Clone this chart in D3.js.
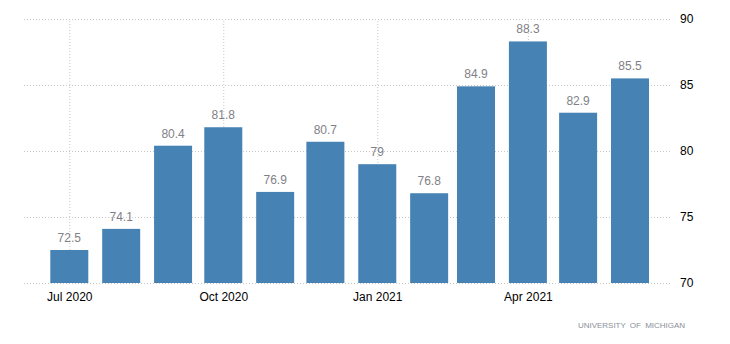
<!DOCTYPE html>
<html>
<head>
<meta charset="utf-8">
<script src="https://cdn.jsdelivr.net/npm/d3@7"></script>
<style>
  html, body { margin: 0; padding: 0; background: #fff; }
  svg { display: block; }
</style>
</head>
<body>
<svg id="chart" width="730" height="344"></svg>
<script>
// Consumer sentiment, monthly
const months = ["2020-07", "2020-08", "2020-09", "2020-10", "2020-11", "2020-12",
                "2021-01", "2021-02", "2021-03", "2021-04", "2021-05", "2021-06"];
const values = [72.5, 74.1, 80.4, 81.8, 76.9, 80.7, 79, 76.8, 84.9, 88.3, 82.9, 85.5];
const yTicks = [70, 75, 80, 85, 90];
const xTickMonths = ["2020-07", "2020-10", "2021-01", "2021-04"];
const sourceLabel = "UNIVERSITY OF MICHIGAN";

const parse = d3.utcParse("%Y-%m");
const dates = months.map(parse);

const svg = d3.select("#chart");
const plot = { left: 22, right: 670, top: 19, bottom: 283 };
const barWidth = 38;
const font = "Tahoma, 'Liberation Sans', Arial, sans-serif";

const x = d3.scaleUtc()
  .domain([dates[0], dates[dates.length - 1]])
  .range([69.3, 630]);

const y = d3.scaleLinear()
  .domain([70, 90])
  .range([plot.bottom, plot.top]);

const gridColor = "#c8c8c8";

// horizontal grid + right axis
const yAxis = d3.axisRight(y)
  .tickValues(yTicks)
  .tickSize(-(plot.right - plot.left))
  .tickPadding(10)
  .tickFormat(d3.format("d"));

const gy = svg.append("g")
  .attr("transform", `translate(${plot.right},0)`)
  .call(yAxis);
gy.select(".domain").remove();
gy.selectAll(".tick line")
  .attr("stroke", gridColor)
  .attr("stroke-dasharray", "1,2");
gy.selectAll(".tick text")
  .attr("fill", "#000")
  .attr("font-family", font)
  .attr("font-size", 12)
  .attr("x", 10);

// vertical grid + bottom axis
const xAxis = d3.axisBottom(x)
  .tickValues(xTickMonths.map(parse))
  .tickSize(-(plot.bottom - plot.top))
  .tickPadding(9)
  .tickFormat(d3.utcFormat("%b %Y"));

const gx = svg.append("g")
  .attr("transform", `translate(0,${plot.bottom})`)
  .call(xAxis);
gx.select(".domain").remove();
gx.selectAll(".tick line")
  .attr("stroke", gridColor)
  .attr("stroke-dasharray", "1,2");
gx.selectAll(".tick text")
  .attr("fill", "#000")
  .attr("font-family", font)
  .attr("font-size", 12);

// bars
svg.append("g")
  .selectAll("rect")
  .data(values)
  .join("rect")
  .attr("x", (d, i) => x(dates[i]) - barWidth / 2)
  .attr("width", barWidth)
  .attr("y", d => y(d))
  .attr("height", d => y(70) - y(d))
  .attr("fill", "#4682b4");

// value labels
svg.append("g")
  .selectAll("text")
  .data(values)
  .join("text")
  .attr("x", (d, i) => x(dates[i]))
  .attr("y", d => y(d) - 8)
  .attr("text-anchor", "middle")
  .attr("fill", "#7f7f87")
  .attr("font-family", font)
  .attr("font-size", 12)
  .text(d => d);

// source
svg.append("text")
  .attr("x", 578)
  .attr("y", 328)
  .attr("textLength", 107)
  .attr("lengthAdjust", "spacing")
  .attr("fill", "#8a8f99")
  .attr("font-family", font)
  .attr("font-size", 8)
  .attr("word-spacing", 2)
  .text(sourceLabel);
</script>
</body>
</html>
